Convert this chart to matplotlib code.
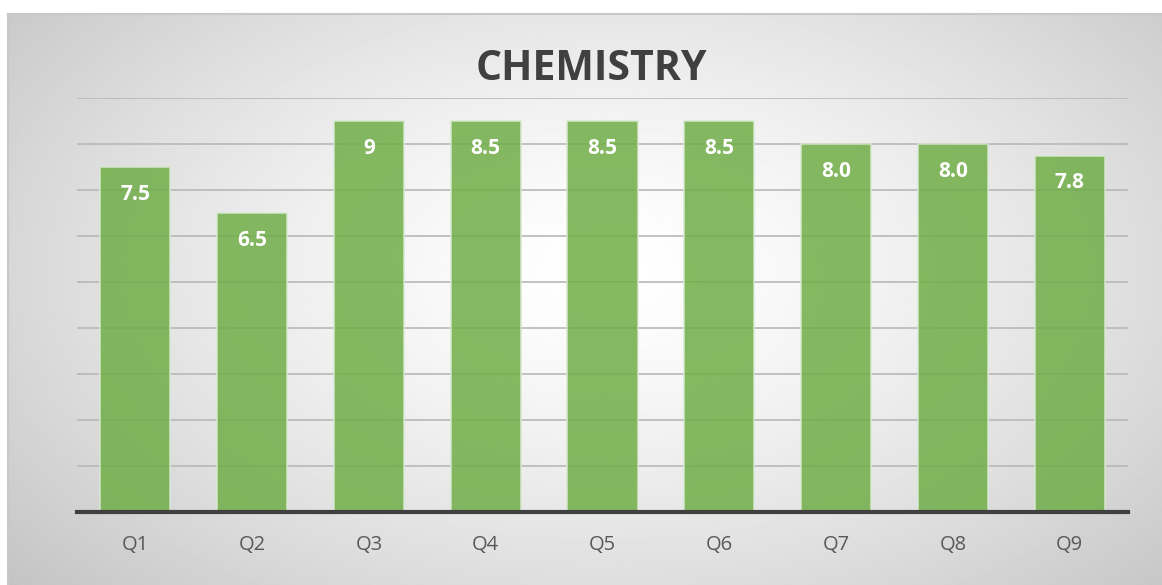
import numpy as np
import matplotlib
matplotlib.use('Agg')
import matplotlib.pyplot as plt

quarters = ['Q1', 'Q2', 'Q3', 'Q4', 'Q5', 'Q6', 'Q7', 'Q8', 'Q9']
scores = [7.5, 6.5, 8.5, 8.5, 8.5, 8.5, 8.0, 8.0, 7.75]
score_labels = ['7.5', '6.5', '9', '8.5', '8.5', '8.5', '8.0', '8.0', '7.8']

plt.rcParams['font.family'] = ['Open Sans', 'DejaVu Sans']

fig = plt.figure(figsize=(11.62, 5.85), dpi=100)
fig.patch.set_facecolor('white')

# radial grey background panel
bg = fig.add_axes([8 / 1162, 0, 1 - 8 / 1162, 1 - 14 / 585])
bg.set_axis_off()
yy, xx = np.mgrid[0:1:300j, 0:1:600j]
r = np.sqrt(((xx - 0.52) / 0.75) ** 2 + ((yy - 0.55) / 0.9) ** 2)
shade = 1.0 - 0.26 * np.clip(r, 0, 1.2) ** 1.4
bg.imshow(shade, cmap='gray', vmin=0, vmax=1, aspect='auto',
          extent=[0, 1, 0, 1], origin='lower')
bg.plot([0, 1], [1, 1], color='#c8c8c8', lw=1.5, transform=bg.transAxes, clip_on=False)
bg.plot([0, 0], [0, 1], color='#c8c8c8', lw=1.5, transform=bg.transAxes, clip_on=False)

ax = fig.add_axes([77 / 1162, 1 - 512 / 585, 1051 / 1162, (512 - 98) / 585])
ax.patch.set_alpha(0)
x = np.arange(len(quarters))
bars = ax.bar(x, scores, width=0.6, color='#70AD47', alpha=0.85,
              edgecolor='#d9ead0', linewidth=1.2, zorder=3)

for xi, val, lab in zip(x, scores, score_labels):
    ax.annotate(lab, (xi, val), xytext=(0, -19.5), textcoords='offset points',
                ha='center', va='center', color='white', fontsize=15,
                fontweight='bold', zorder=4)

ax.set_xlim(-0.5, len(quarters) - 0.5)
ax.set_ylim(0, 9)
ax.set_yticks(np.arange(0, 10, 1))
ax.yaxis.grid(True, color='#b8b8b8', lw=1.2, zorder=0)
ax.tick_params(axis='y', left=False, labelleft=False)
ax.tick_params(axis='x', bottom=False, labelsize=14.5, labelcolor='#595959', pad=13)
ax.set_xticks(x)
ax.set_xticklabels(quarters)
for sp in ['top', 'right', 'left']:
    ax.spines[sp].set_visible(False)
ax.spines['bottom'].set_color('#404040')
ax.spines['bottom'].set_linewidth(3)
ax.spines['bottom'].set_zorder(5)

fig.text(0.509, 1 - 69 / 585, 'CHEMISTRY', ha='center', va='center',
         fontsize=29.5, fontweight='bold', color='#404040')

fig.savefig('out.png', dpi=100)
